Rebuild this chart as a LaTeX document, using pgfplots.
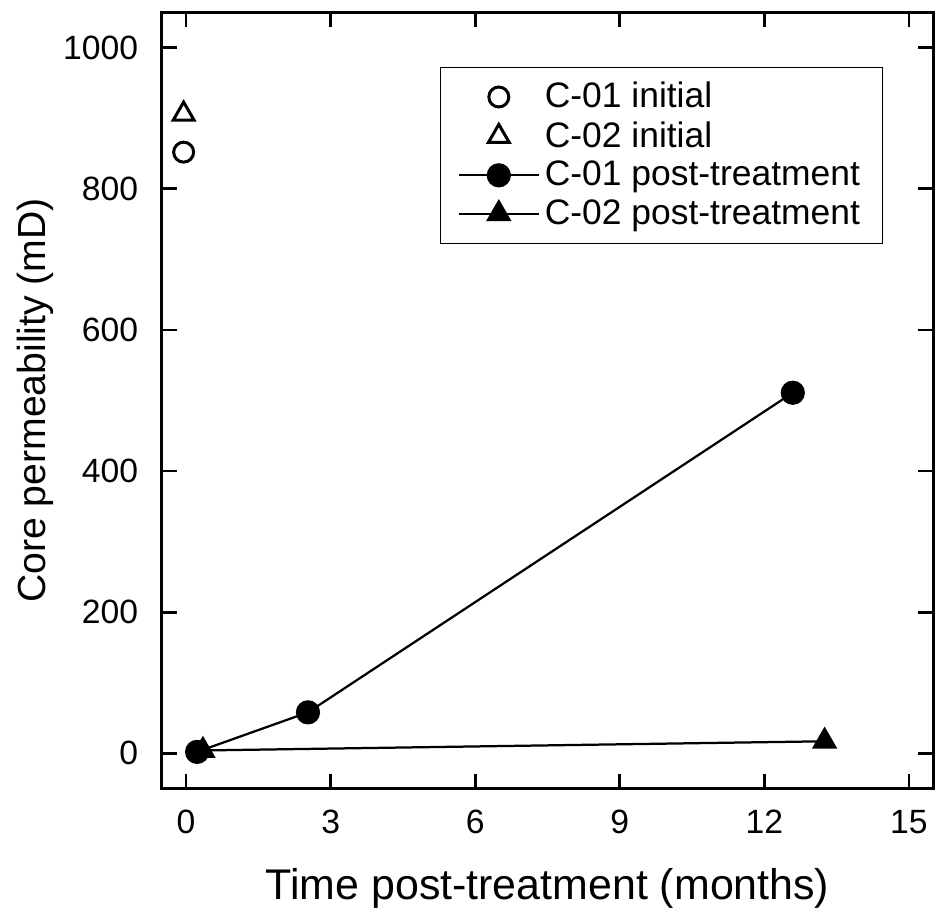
\documentclass[border=0pt]{standalone}
\usepackage{pgfplots}
\pgfplotsset{compat=1.18}
\usepackage{fontspec}
\setmainfont{Liberation Sans}

\begin{document}
\begin{tikzpicture}
\begin{axis}[
  scale only axis,
  width=309pt, height=311pt,
  xmin=-0.5, xmax=15.5,
  ymin=-50, ymax=1050,
  xtick={0,3,6,9,12,15},
  ytick={0,200,400,600,800,1000},
  tick align=inside,
  major tick length=6pt,
  every tick/.style={black, line width=1.1pt},
  axis line style={line width=1.2pt},
  /pgf/number format/assume math mode=true,
  /pgf/number format/1000 sep={},
  tick label style={font=\fontsize{13.5}{15}\selectfont},
  yticklabel style={xshift=-6pt},
  xticklabel style={yshift=-5pt},
  xlabel={Time post-treatment (months)},
  ylabel={Core permeability (mD)},
  xlabel style={font=\fontsize{17.2}{20}\selectfont, yshift=-7pt},
  ylabel style={font=\fontsize{15.7}{18}\selectfont, yshift=-3pt},
  legend cell align=left,
  legend style={
    at={(0.935,0.93)}, anchor=north east,
    draw=black, line width=0.4pt,
    font=\fontsize{14.2}{16}\selectfont,
    row sep=0pt, inner xsep=7pt, inner ysep=4pt,
  },
  legend image code/.code={
    \draw[mark repeat=2, mark phase=2, #1] plot coordinates {(0pt,0pt) (16pt,0pt) (32pt,0pt)};
  },
]
\addplot[only marks, mark=o, mark size=4pt, line width=1.2pt, black] coordinates {(-0.05,852)};
\addlegendentry{C-01 initial}
\addplot[only marks, mark=triangle, mark size=4.8pt, line width=1.2pt, black] coordinates {(-0.05,906)};
\addlegendentry{C-02 initial}
\addplot[black, line width=0.9pt, mark=*, mark size=4.4pt] coordinates {(0.23,2) (2.53,58) (12.59,511)};
\addlegendentry{C-01 post-treatment}
\addplot[black, line width=0.9pt, mark=triangle*, mark size=5pt] coordinates {(0.35,4) (13.25,17)};
\addlegendentry{C-02 post-treatment}
\end{axis}
\path (current axis.north) ++(0,5pt);
\path ([xshift=-3.5pt]current bounding box.west);
\end{tikzpicture}
\end{document}
